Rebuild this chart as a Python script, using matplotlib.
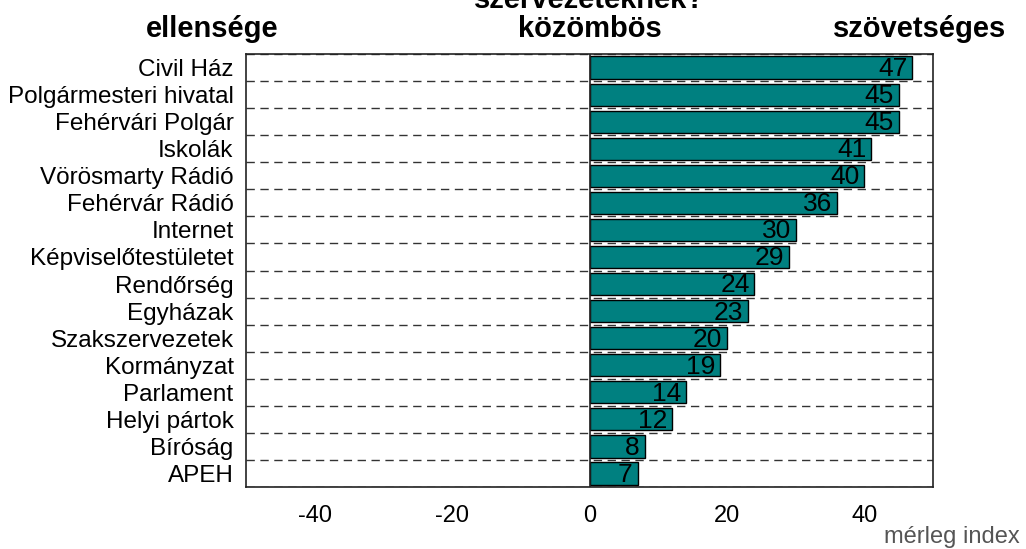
import numpy as np
import matplotlib
matplotlib.use("Agg")
import matplotlib.pyplot as plt

plt.rcParams["font.family"] = ["Liberation Sans", "DejaVu Sans"]

categories = ["Civil Ház", "Polgármesteri hivatal", "Fehérvári Polgár", "Iskolák",
              "Vörösmarty Rádió", "Fehérvár Rádió", "Internet", "Képviselőtestületet",
              "Rendőrség", "Egyházak", "Szakszervezetek", "Kormányzat", "Parlament",
              "Helyi pártok", "Bíróság", "APEH"]
values = [47, 45, 45, 41, 40, 36, 30, 29, 24, 23, 20, 19, 14, 12, 8, 7]
xticks = [-40, -20, 0, 20, 40]

fig = plt.figure(figsize=(10.26, 5.49), dpi=100)
ax = fig.add_axes([0.2398, 0.1129, 0.6696, 0.7887])

y = np.arange(len(categories))
ax.barh(y, values, height=0.82, color="#008080", edgecolor="black",
        linewidth=1, zorder=3)
for yi, v in zip(y, values):
    ax.annotate(str(v), (v, yi), xytext=(-3.5, -1), textcoords="offset points",
                ha="right", va="center", fontsize=19, color="black", zorder=4)

# dashed separators between categories
for b in np.arange(len(categories) + 1) - 0.5:
    ax.axhline(b, color="#333333", linestyle=(0, (6, 4)), linewidth=1, zorder=1)
ax.axvline(0, color="#222222", linewidth=1.2, zorder=4)

ax.set_xlim(-50, 50)
ax.set_ylim(len(categories) - 0.5, -0.5)
ax.set_yticks(y)
ax.set_yticklabels(categories, fontsize=17.5)
ax.set_xticks(xticks)
ax.set_xticklabels([str(t) for t in xticks], fontsize=17)
ax.tick_params(length=0)
ax.tick_params(axis="y", pad=9)
ax.tick_params(axis="x", pad=13)
for s in ax.spines.values():
    s.set_linewidth(1.2)
    s.set_color("#222222")

fig.text(0.2066, 0.947, "ellensége", ha="center", va="center", fontsize=21, fontweight="bold")
fig.text(0.575, 0.947, "közömbös", ha="center", va="center", fontsize=21, fontweight="bold")
fig.text(0.896, 0.947, "szövetséges", ha="center", va="center", fontsize=21, fontweight="bold")
fig.text(0.575, 0.9854, "szervezeteknek?", ha="center", va="baseline", fontsize=21, fontweight="bold")
fig.text(0.994, 0.022, "mérleg index", ha="right", va="center", fontsize=17, color="#555555")

fig.savefig("out.png", dpi=100)
